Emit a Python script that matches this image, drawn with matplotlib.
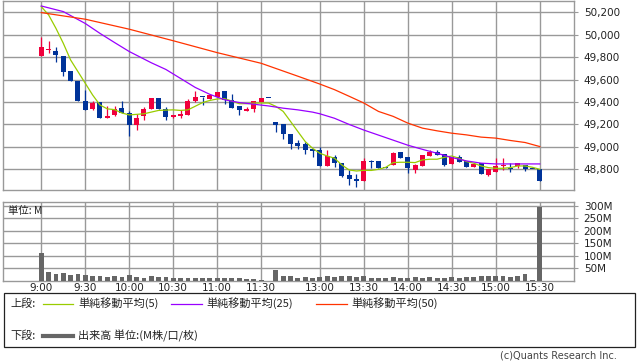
import matplotlib
matplotlib.use("Agg")
import matplotlib.pyplot as plt
from matplotlib.patches import Rectangle
from matplotlib.lines import Line2D

W, H, DPI = 638, 362, 100

# ---------------- data ----------------
opens = [49807, 49860, 49858, 49813, 49672, 49583, 49405, 49340, 49403, 49260,
         49280, 49347, 49300, 49196, 49272, 49341, 49439, 49339, 49263, 49272,
         49281, 49412, 49447, 49427, 49444, 49501, 49421, 49361, 49317, 49335,
         49403, 49440, 49221, 49200, 49116, 49039, 49027, 48982, 48973, 48833,
         48913, 48860, 48752, 48716, 48693, 48878, 48875, 48824, 48836, 48958,
         48907, 48790, 48833, 48922, 48955, 48934, 48845, 48913, 48875, 48824,
         48854, 48749, 48779, 48830, 48810, 48833, 48839, 48801, 48801]
highs = [49976, 49948, 49893, 49813, 49677, 49583, 49509, 49410, 49403, 49366,
         49363, 49412, 49321, 49291, 49354, 49439, 49439, 49357, 49284, 49330,
         49427, 49501, 49447, 49467, 49489, 49501, 49474, 49361, 49352, 49412,
         49439, 49440, 49221, 49200, 49116, 49057, 49042, 48982, 48997, 48973,
         48925, 48860, 48794, 48755, 48898, 48881, 48875, 48824, 48955, 48958,
         48910, 48850, 48931, 48973, 48973, 48934, 48913, 48925, 48875, 48851,
         48854, 48800, 48898, 48898, 48854, 48845, 48839, 48801, 48801]
lows = [49807, 49835, 49761, 49628, 49583, 49405, 49332, 49333, 49255, 49260,
        49276, 49300, 49098, 49152, 49237, 49341, 49341, 49241, 49255, 49253,
        49281, 49400, 49376, 49427, 49444, 49383, 49344, 49281, 49317, 49315,
        49403, 49437, 49134, 49069, 48985, 48985, 48937, 48913, 48833, 48833,
        48818, 48734, 48660, 48645, 48693, 48815, 48815, 48809, 48836, 48904,
        48770, 48770, 48833, 48922, 48931, 48833, 48845, 48863, 48824, 48824,
        48755, 48740, 48779, 48794, 48773, 48815, 48788, 48799, 48699]
closes = [49886, 49872, 49815, 49664, 49583, 49405, 49332, 49393, 49255, 49275,
          49341, 49301, 49193, 49259, 49341, 49439, 49341, 49270, 49281, 49293,
          49412, 49447, 49444, 49462, 49489, 49415, 49344, 49326, 49341, 49412,
          49439, 49437, 49191, 49119, 49030, 49009, 48973, 48964, 48833, 48922,
          48860, 48740, 48713, 48693, 48875, 48863, 48815, 48815, 48949, 48904,
          48815, 48842, 48931, 48958, 48931, 48842, 48913, 48863, 48824, 48851,
          48755, 48800, 48833, 48834, 48807, 48860, 48800, 48799, 48699]
volumes_m = [112, 36, 28, 32, 24, 28, 24, 20, 20, 16,
             20, 16, 24, 16, 12, 20, 16, 16, 12, 12,
             12, 12, 12, 12, 12, 12, 12, 12, 8, 8,
             2, 0, 44, 20, 20, 12, 15, 11, 16, 20,
             16, 20, 20, 16, 20, 12, 12, 12, 16, 12,
             12, 16, 12, 16, 12, 12, 16, 12, 16, 16,
             20, 20, 20, 20, 16, 20, 28, 2, 295]

ma5 = [50250, 50176, 50057, 49924, 49775, 49671, 49567, 49463, 49374, 49339,
       49332, 49302, 49285, 49290, 49295, 49310, 49325, 49328, 49330, 49325,
       49330, 49362, 49395, 49414, 49427, 49430, 49408, 49385, 49385, 49390,
       49391, 49391, 49361, 49316, 49227, 49137, 49048, 48988, 48943, 48919,
       48899, 48839, 48794, 48785, 48791, 48790, 48800, 48818, 48860, 48863,
       48863, 48860, 48884, 48890, 48890, 48907, 48919, 48898, 48869, 48854,
       48830, 48815, 48809, 48809, 48815, 48830, 48830, 48818, 48800]
ma25_idx = [0, 3, 6, 8, 10, 12, 15, 17, 19, 21, 23, 25, 27, 29, 31, 33, 35, 37,
            38, 40, 42, 44, 46, 48, 50, 52, 54, 56, 58, 60, 62, 65, 68]
ma25 = [50256, 50206, 50100, 50012, 49930, 49850, 49750, 49690, 49610, 49530,
        49468, 49420, 49395, 49380, 49365, 49345, 49330, 49310, 49295, 49255,
        49200, 49150, 49105, 49060, 49015, 48978, 48943, 48905, 48875, 48855,
        48848, 48848, 48848]
ma50_idx = [0, 6, 12, 18, 24, 30, 35, 38, 40, 42, 44, 46, 48, 50, 52, 54, 56,
            58, 60, 62, 64, 66, 68]
ma50 = [50197, 50138, 50049, 49946, 49840, 49745, 49630, 49560, 49510, 49451,
        49391, 49316, 49272, 49212, 49167, 49143, 49122, 49107, 49087, 49078,
        49057, 49039, 49003]

tick_pos = [0, 6, 12, 18, 24, 30, 38, 44, 50, 56, 62, 68]
tick_labels = ["9:00", "9:30", "10:00", "10:30", "11:00", "11:30",
               "13:00", "13:30", "14:00", "14:30", "15:00", "15:30"]
price_ticks = [48800, 49000, 49200, 49400, 49600, 49800, 50000, 50200]
vol_ticks = [50, 100, 150, 200, 250, 300]

# ---------------- style ----------------
UP = "#f0003c"
DOWN = "#003399"
C_MA5 = "#99cc00"
C_MA25 = "#9900ff"
C_MA50 = "#ff3300"
GRID = "#999999"
VOL = "#666666"
JP = ["Noto Sans CJK JP", "DejaVu Sans"]

fig = plt.figure(figsize=(W / DPI, H / DPI), dpi=DPI)


def axrect(l, t, r, b):
    return [l / W, 1 - b / H, (r - l) / W, (b - t) / H]


ax = fig.add_axes(axrect(3.3, 0.7, 574, 190.3))
axv = fig.add_axes(axrect(3.3, 201.7, 574, 280.5))

xlim = (-5.18, 72.67)
for a in (ax, axv):
    a.set_xlim(*xlim)
    for s in a.spines.values():
        s.set_color(GRID)
        s.set_linewidth(1.0)
    a.set_xticks(tick_pos)
    a.grid(True, color=GRID, linewidth=1.0)
    a.set_axisbelow(True)
    a.yaxis.tick_right()
    a.tick_params(axis="y", direction="out", length=3, width=0.8, color=GRID,
                  pad=4, labelsize=7.5, labelcolor="#222222")
    a.tick_params(axis="x", length=0)

ax.set_ylim(48613, 50303)
ax.set_yticks(price_ticks)
ax.set_yticklabels([f"{p:,}" for p in price_ticks])
ax.tick_params(axis="x", labelbottom=False)

# candles
n = len(opens)
idx = list(range(n))
for i in idx:
    o, h, l, c = opens[i], highs[i], lows[i], closes[i]
    col = UP if c > o else DOWN
    ax.vlines(i, l, h, color=col, linewidth=0.9, zorder=3)
    lo = min(o, c)
    hgt = max(abs(c - o), 9)
    ax.bar(i, hgt, bottom=lo, width=0.68, color=col, linewidth=0, zorder=4)

ax.plot(idx, ma5, color=C_MA5, linewidth=0.9, zorder=5)
ax.plot(ma25_idx, ma25, color=C_MA25, linewidth=0.9, zorder=5)
ax.plot(ma50_idx, ma50, color=C_MA50, linewidth=0.9, zorder=5)

# volume
axv.bar(idx, volumes_m, width=0.65, color=VOL, linewidth=0, zorder=3)
axv.set_ylim(0, 317)
axv.set_yticks(vol_ticks)
axv.set_yticklabels([f"{v}M" for v in vol_ticks])
axv.set_xticklabels(tick_labels)
axv.tick_params(axis="x", pad=2, labelsize=7.5, labelcolor="#222222")
fig.text(8.3 / W, 1 - 210.5 / H, "単位: M", family=JP, fontsize=7.5,
         ha="left", va="center", color="#222222")

# legend box
fig.patches.append(Rectangle((3.5 / W, 1 - 347 / H), (635 - 3.5) / W, (347 - 293) / H,
                             transform=fig.transFigure, fill=False,
                             edgecolor="#222222", linewidth=0.9))
row1, row2 = 1 - 303.5 / H, 1 - 336 / H
fig.text(10 / W, row1, "上段:", family=JP, fontsize=8, va="center", color="#222222")
fig.text(10 / W, row2, "下段:", family=JP, fontsize=8, va="center", color="#222222")
legend_items = [(43, 73, 78, C_MA5, "単純移動平均(5)"),
                (171, 202, 206, C_MA25, "単純移動平均(25)"),
                (316, 347, 351, C_MA50, "単純移動平均(50)")]
for x0, x1, xt, col, lab in legend_items:
    fig.add_artist(Line2D([x0 / W, x1 / W], [row1, row1], color=col, linewidth=0.9,
                          transform=fig.transFigure))
    fig.text(xt / W, row1, lab, family=JP, fontsize=8, va="center", color="#222222")
fig.add_artist(Line2D([43 / W, 73 / W], [row2, row2], color=VOL, linewidth=3,
                      transform=fig.transFigure))
fig.text(78 / W, row2, "出来高 単位:(M株/口/枚)", family=JP, fontsize=8,
         va="center", color="#222222")
fig.text(617 / W, 1 - 355.5 / H, "(c)Quants Research Inc.", fontsize=7,
         ha="right", va="center", color="#444444")

fig.savefig("out.png", dpi=DPI)
